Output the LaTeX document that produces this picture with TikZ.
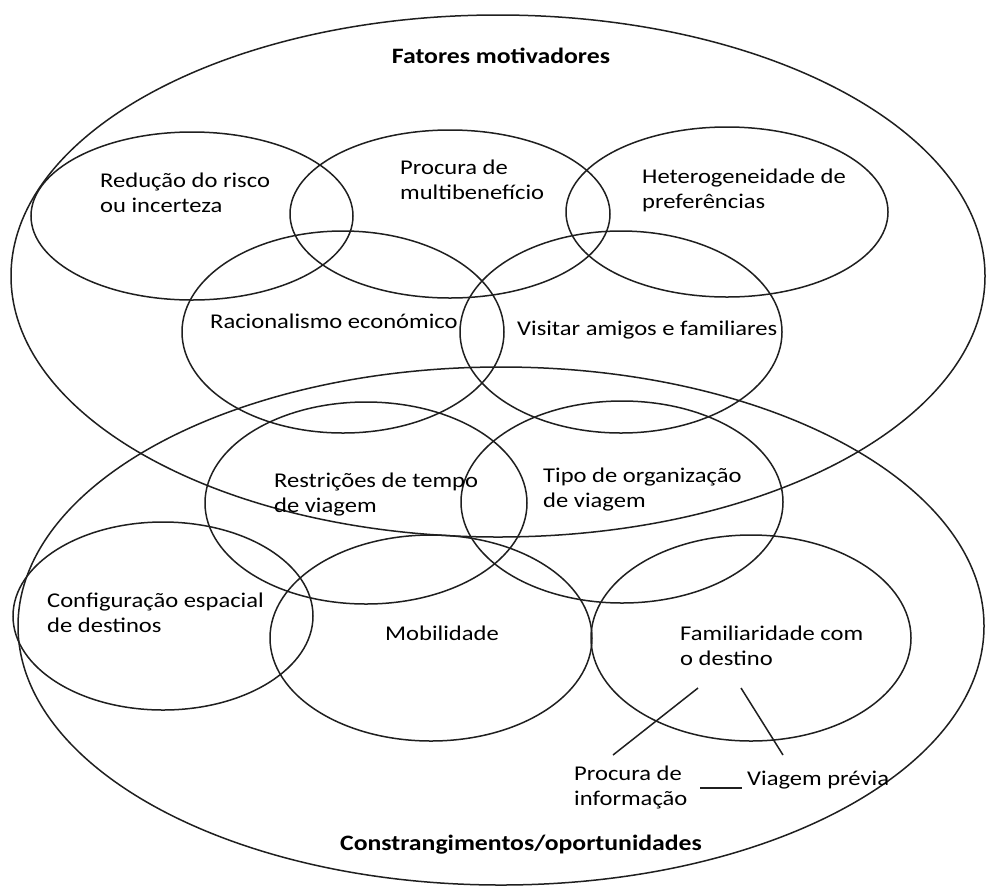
\documentclass[tikz,border=0pt]{standalone}
\usepackage{fontspec}
\setmainfont{Carlito}[FakeStretch=1.17]
\newcommand{\lines}[2]{\begin{tabular}[t]{@{}l@{}}#1\\#2\end{tabular}}
\begin{document}
\begin{tikzpicture}[x=1pt,y=-1pt,
  ring/.style={draw=black!88,line width=1.5pt},
  lbl/.style={anchor=base west,inner sep=0pt,font=\fontsize{21}{25}\selectfont},
  ttl/.style={anchor=base,inner sep=0pt,font=\fontsize{22}{26}\selectfont\bfseries},
  link/.style={draw=black!88,line width=1.5pt}]
\useasboundingbox (0,0) rectangle (987,887);
\fill[white] (0,0) rectangle (987,887);

% the two large groups
\draw[ring] (498,276) ellipse [x radius=487pt,y radius=261pt];
\draw[ring] (501,626) ellipse [x radius=483pt,y radius=259pt];

% motivating factors
\draw[ring] (192,216) ellipse [x radius=161pt,y radius=84pt];
\draw[ring] (450,214) ellipse [x radius=160pt,y radius=84pt];
\draw[ring] (727,212) ellipse [x radius=161pt,y radius=85pt];
\draw[ring] (343,332) ellipse [x radius=161pt,y radius=101pt];
\draw[ring] (621,332) ellipse [x radius=161pt,y radius=101pt];

% constraints / opportunities
\draw[ring] (366,503) ellipse [x radius=161pt,y radius=101pt];
\draw[ring] (622,502) ellipse [x radius=161pt,y radius=101pt];
\draw[ring] (163,616) ellipse [x radius=150pt,y radius=94pt];
\draw[ring] (431,638) ellipse [x radius=161pt,y radius=103pt];
\draw[ring] (751,638) ellipse [x radius=160pt,y radius=103pt];

% titles
\node[ttl] (fm) at (501,63) {Fatores motivadores};
\node[ttl] (co) at (521,850) {Constrangimentos/oportunidades};

% labels
\node[lbl] (risco) at (100,187) {\lines{Redução do risco}{ou incerteza}};
\node[lbl] (multi) at (400,174) {\lines{Procura de}{multibenefício}};
\node[lbl] (heter) at (642,183) {\lines{Heterogeneidade de}{preferências}};
\node[lbl] (racio) at (210,328) {Racionalismo económico};
\node[lbl] (visit) at (517,335) {Visitar amigos e familiares};
\node[lbl] (restr) at (274,487) {\lines{Restrições de tempo}{de viagem}};
\node[lbl] (tipo)  at (543,482) {\lines{Tipo de organização}{de viagem}};
\node[lbl] (confg) at (47,607)  {\lines{Configuração espacial}{de destinos}};
\node[lbl] (mobil) at (385,640) {Mobilidade};
\node[lbl] (famil) at (680,640) {\lines{Familiaridade com}{o destino}};
\node[lbl] (pinfo) at (574,780) {\lines{Procura de}{informação}};
\node[lbl] (vprev) at (747,785) {Viagem prévia};

% connectors below the familiarity circle
\coordinate (fa) at (698,688);
\coordinate (fb) at (741,688);
\coordinate (pa) at (613,755);
\coordinate (vb) at (783,755);
\coordinate (ha) at (700,788);
\coordinate (hb) at (742,788);
\draw[link] (fa) -- (pa);
\draw[link] (fb) -- (vb);
\draw[link] (ha) -- (hb);
\end{tikzpicture}
\end{document}
